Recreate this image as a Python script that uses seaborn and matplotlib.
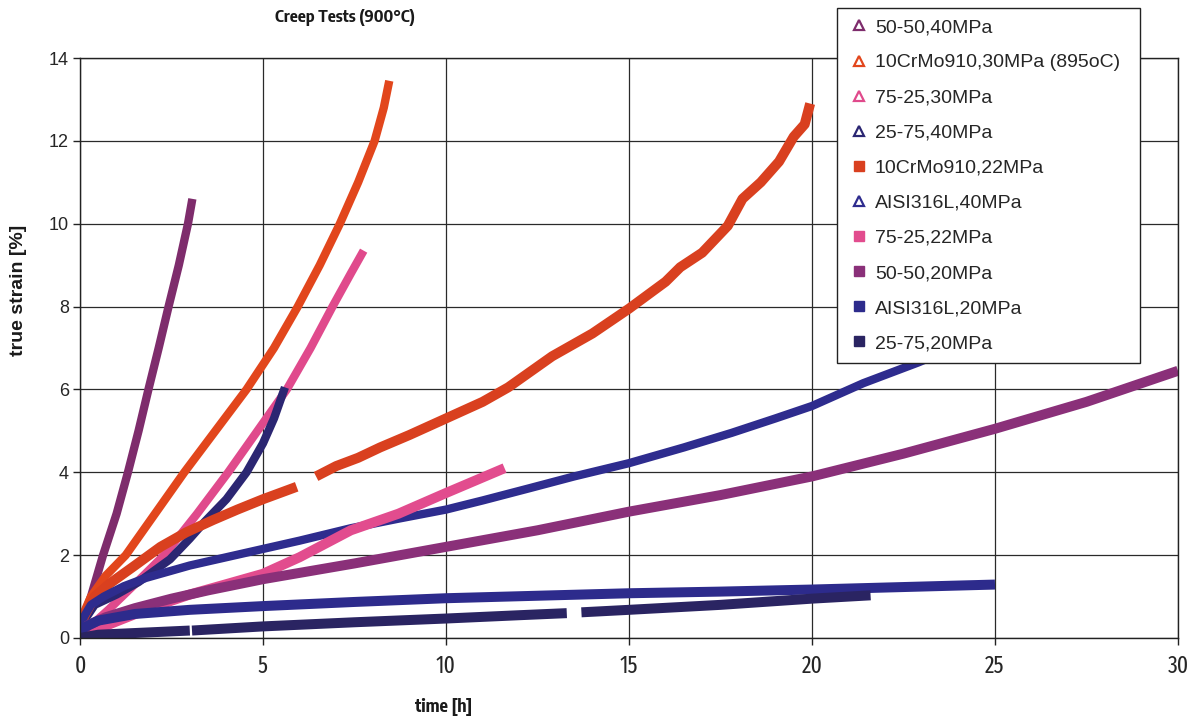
import numpy as np
import pandas as pd
import matplotlib
matplotlib.use("Agg")
import matplotlib.pyplot as plt
import seaborn as sns
from matplotlib.lines import Line2D
from matplotlib import font_manager
from matplotlib.font_manager import FontProperties
from matplotlib.textpath import TextPath

sns.set_theme(style="white")

DPI = 100


def pick_font(*names):
    available = {f.name for f in font_manager.fontManager.ttflist}
    for name in names:
        if name in available:
            return name
    return "DejaVu Sans"


def weight_num(w):
    if isinstance(w, (int, float)):
        return int(w)
    return font_manager.weight_dict.get(str(w), 400)


def shape_ratio(fp):
    probe = fp.copy()
    probe.set_size(10)
    w = TextPath((0, 0), "Creep Tests 900", prop=probe).get_extents().width
    h = TextPath((0, 0), "E", prop=probe).get_extents().height
    return w / h


def narrow_file(bold, base_family, squeeze=0.82):
    """Condensed face closest to `squeeze` times the width of base_family."""
    base = FontProperties(family=base_family, weight="bold" if bold else "normal")
    target = squeeze * shape_ratio(base)
    best, best_err = None, None
    for f in font_manager.fontManager.ttflist:
        if f.style != "normal":
            continue
        narrow = ("Narrow" in f.name or "Condensed" in f.name
                  or str(f.stretch) in ("condensed", "semi-condensed"))
        if not narrow:
            continue
        wn = weight_num(f.weight)
        if bold and not (600 <= wn <= 750):
            continue
        if not bold and not (370 <= wn <= 500):
            continue
        try:
            r = shape_ratio(FontProperties(fname=f.fname))
        except Exception:
            continue
        err = abs(r - target)
        if best_err is None or err < best_err:
            best, best_err = f.fname, err
    if best is not None and best_err < 0.12 * target:
        return best
    return None


def fit_size(fp, text, target_px):
    """Font size (pt) that makes `text` about target_px wide."""
    probe = fp.copy()
    probe.set_size(10)
    w_pt = TextPath((0, 0), text, prop=probe).get_extents().width
    return 10 * target_px / (w_pt * DPI / 72)


SANS = pick_font("Liberation Sans", "Arial")
plt.rcParams["font.family"] = [SANS, "DejaVu Sans"]

NARROW_BOLD = narrow_file(True, SANS)
NARROW_REG = narrow_file(False, SANS)

# ---- creep curves: time [h] and true strain [%]; NaN separates data gaps ----
t_5050_40 = [0, 0.05, 0.3, 0.63, 1.0, 1.31, 1.6, 1.87, 2.15, 2.42, 2.7, 2.95, 3.07]
e_5050_40 = [0, 0.4, 1.0, 2.0, 3.0, 4.0, 5.0, 6.0, 7.0, 8.0, 9.0, 10.0, 10.6]

t_cr_30 = [0, 0.05, 0.3, 0.7, 1.25, 2.05, 2.85, 3.7, 4.55, 5.3, 5.95, 6.55, 7.1, 7.6, 8.05, 8.3, 8.45]
e_cr_30 = [0, 0.5, 1.0, 1.5, 2.0, 3.0, 4.0, 5.0, 6.0, 7.0, 8.0, 9.0, 10.0, 11.0, 12.0, 12.8, 13.45]

t_7525_30 = [0, 0.3, 0.8, 1.5, 2.3, 3.2, 4.05, 4.85, 5.65, 6.3, 6.9, 7.4, 7.75]
e_7525_30 = [0, 0.3, 0.7, 1.3, 2.0, 3.0, 4.0, 5.0, 6.0, 7.0, 8.0, 8.8, 9.35]

t_2575_40 = [0, 0.1, 0.4, 1.0, 1.6, 2.46, 3.0, 3.4, 4.0, 4.55, 5.0, 5.3, 5.6]
e_2575_40 = [0, 0.4, 0.8, 1.05, 1.35, 1.9, 2.4, 2.8, 3.35, 4.0, 4.7, 5.3, 6.05]

t_cr_22 = [0, 0.1, 0.4, 0.82, 1.5, 2.2, 2.9, 3.64, 4.3, 5.0, 5.92, np.nan,
           6.45, 7.0, 7.6, 8.2, 9.0, 10.0, 11.0, 11.7, 12.9, 14.0, 15.0, 16.0,
           16.4, 17.0, 17.7, 18.1, 18.6, 19.1, 19.5, 19.8, 19.95]
e_cr_22 = [0, 0.5, 1.0, 1.32, 1.75, 2.2, 2.55, 2.85, 3.1, 3.35, 3.65, np.nan,
           3.9, 4.15, 4.35, 4.6, 4.9, 5.3, 5.7, 6.05, 6.8, 7.35, 7.95, 8.6,
           8.95, 9.3, 9.95, 10.6, 11.0, 11.5, 12.1, 12.4, 12.9]

t_316_40 = [0, 0.1, 0.3, 0.65, 1.2, 1.8, 3.0, 4.0, 5.0, 6.0, 7.4, 8.7, 10.0,
            11.0, 12.3, 13.5, 15.0, 16.5, 17.8, 19.0, 20.0, 21.4, 22.9, 24.0]
e_316_40 = [0, 0.5, 0.8, 1.0, 1.25, 1.45, 1.75, 1.95, 2.15, 2.35, 2.65, 2.88, 3.1,
            3.32, 3.62, 3.9, 4.22, 4.6, 4.95, 5.3, 5.6, 6.15, 6.65, 7.05]

t_7525_22 = [0, 0.3, 1.0, 2.0, 3.0, 4.0, 5.0, 6.0, 7.4, 8.7, 10.0, 11.6]
e_7525_22 = [0, 0.15, 0.4, 0.75, 1.05, 1.3, 1.55, 1.95, 2.6, 3.0, 3.5, 4.1]

t_5050_20 = [0, 0.2, 0.7, 1.5, 2.5, 3.5, 5.0, 7.5, 10.0, 12.5, 15.0, 17.5, 20.0, 22.5, 25.0, 27.5, 30.0]
e_5050_20 = [0, 0.3, 0.5, 0.72, 0.95, 1.15, 1.42, 1.8, 2.2, 2.6, 3.05, 3.45, 3.9, 4.45, 5.05, 5.7, 6.45]

t_316_20 = [0, 0.1, 0.5, 1.5, 3.0, 5.0, 7.5, 10.0, 12.5, 15.0, 17.5, 20.0, 22.5, 25.0]
e_316_20 = [0, 0.25, 0.42, 0.58, 0.68, 0.77, 0.87, 0.96, 1.02, 1.08, 1.12, 1.17, 1.23, 1.29]

t_2575_20 = [0, 0.5, 1.5, 3.0, np.nan, 3.06, 5.0, 7.5, 10.0, 12.0, 13.3, np.nan,
             13.7, 15.0, 17.5, 20.0, 21.6]
e_2575_20 = [0, 0.08, 0.12, 0.18, np.nan, 0.18, 0.28, 0.38, 0.47, 0.55, 0.6, np.nan,
             0.62, 0.68, 0.8, 0.95, 1.03]

labels = ["50-50,40MPa", "10CrMo910,30MPa (895oC)", "75-25,30MPa", "25-75,40MPa",
          "10CrMo910,22MPa", "AISI316L,40MPa", "75-25,22MPa", "50-50,20MPa",
          "AISI316L,20MPa", "25-75,20MPa"]
markers = ["^", "^", "^", "^", "s", "^", "s", "s", "s", "s"]
colors = ["#7E2C6C", "#E2461C", "#E04A8C", "#2B2672", "#D9401F",
          "#2E2C8E", "#E24C8E", "#8A3079", "#2D2B8C", "#2A2462"]
times = [t_5050_40, t_cr_30, t_7525_30, t_2575_40, t_cr_22,
         t_316_40, t_7525_22, t_5050_20, t_316_20, t_2575_20]
strains = [e_5050_40, e_cr_30, e_7525_30, e_2575_40, e_cr_22,
           e_316_40, e_7525_22, e_5050_20, e_316_20, e_2575_20]

rows = []
for lab, ts, es in zip(labels, times, strains):
    seg = 0
    for t, e in zip(ts, es):
        if np.isnan(t):
            seg += 1
            continue
        rows.append({"series": lab, "seg": seg, "time": t, "strain": e})
df = pd.DataFrame(rows)

fig = plt.figure(figsize=(11.96, 7.23), dpi=DPI)
fig.patch.set_facecolor("white")
ax = fig.add_axes([80 / 1196, 1 - 638 / 723, (1178 - 80) / 1196, (638 - 58) / 723])
ax.set_facecolor("white")

for lab, mk, col in zip(labels, markers, colors):
    sub = df[df["series"] == lab]
    lw = 6.0 if mk == "^" else 7.2
    sns.lineplot(data=sub, x="time", y="strain", units="seg", estimator=None,
                 sort=False, color=col, lw=lw, legend=False, ax=ax,
                 solid_capstyle="butt", solid_joinstyle="round")

ax.set_xlim(0, 30)
ax.set_ylim(0, 14)
ax.set_xticks(range(0, 31, 5))
ax.set_yticks(range(0, 15, 2))
ax.grid(True, color="#2a2a2a", lw=0.9)
ax.set_axisbelow(True)
for sp in ax.spines.values():
    sp.set_visible(True)
    sp.set_color("#222222")
    sp.set_linewidth(1.0)
ax.tick_params(axis="both", direction="out", length=5, width=1, color="#222222",
               bottom=True, left=True)
ax.tick_params(axis="y", labelsize=13, pad=3)
ax.tick_params(axis="x", labelsize=14, pad=7)
for lbl in ax.get_yticklabels():
    lbl.set_fontfamily([SANS, "DejaVu Sans"])
if NARROW_REG:
    for lbl in ax.get_xticklabels():
        lbl.set_fontproperties(FontProperties(fname=NARROW_REG, size=17))
ax.set_xlabel("")
ax.set_ylabel("")

if NARROW_BOLD:
    bold_fp = FontProperties(fname=NARROW_BOLD)
else:
    bold_fp = FontProperties(family=SANS, weight="bold")

title_text = "Creep Tests (900°C)"
title_fp = bold_fp.copy()
title_fp.set_size(fit_size(bold_fp, title_text, 138))
xlab_text = "time [h]"
xlab_fp = bold_fp.copy()
xlab_fp.set_size(fit_size(bold_fp, xlab_text, 56))

fig.text(345 / 1196, 1 - 18 / 723, title_text, ha="center", va="center",
         fontproperties=title_fp, color="#1a1a1a")
fig.text(444 / 1196, 1 - 707 / 723, xlab_text, ha="center", va="center",
         fontproperties=xlab_fp, color="#1a1a1a")
fig.text(19 / 1196, 1 - 290 / 723, "true strain [%]", ha="center", va="center",
         rotation=90, fontsize=14, fontweight="bold", family=[SANS, "DejaVu Sans"],
         color="#1a1a1a")

handles = []
for lab, mk, col in zip(labels, markers, colors):
    if mk == "^":
        h = Line2D([], [], linestyle="None", marker="^", markersize=7.5,
                   markerfacecolor="white", markeredgecolor=col, markeredgewidth=1.6)
    else:
        h = Line2D([], [], linestyle="None", marker="s", markersize=7.5,
                   markerfacecolor=col, markeredgecolor=col)
    handles.append(h)

leg = fig.legend(handles, labels, loc="upper left", mode="expand",
                 bbox_to_anchor=(837 / 1196, 1 - 362 / 723, (1140 - 837) / 1196, (362 - 8) / 723),
                 bbox_transform=fig.transFigure,
                 prop=FontProperties(family=[SANS, "DejaVu Sans"], size=14),
                 frameon=True, fancybox=False, shadow=False,
                 labelspacing=0.9, handlelength=1.2, handletextpad=0.2,
                 borderpad=0.55, borderaxespad=0.0)
leg.get_frame().set_edgecolor("#222222")
leg.get_frame().set_linewidth(1.0)
leg.get_frame().set_facecolor("white")
leg.get_frame().set_alpha(1.0)

fig.savefig("out.png", dpi=DPI, facecolor="white")
